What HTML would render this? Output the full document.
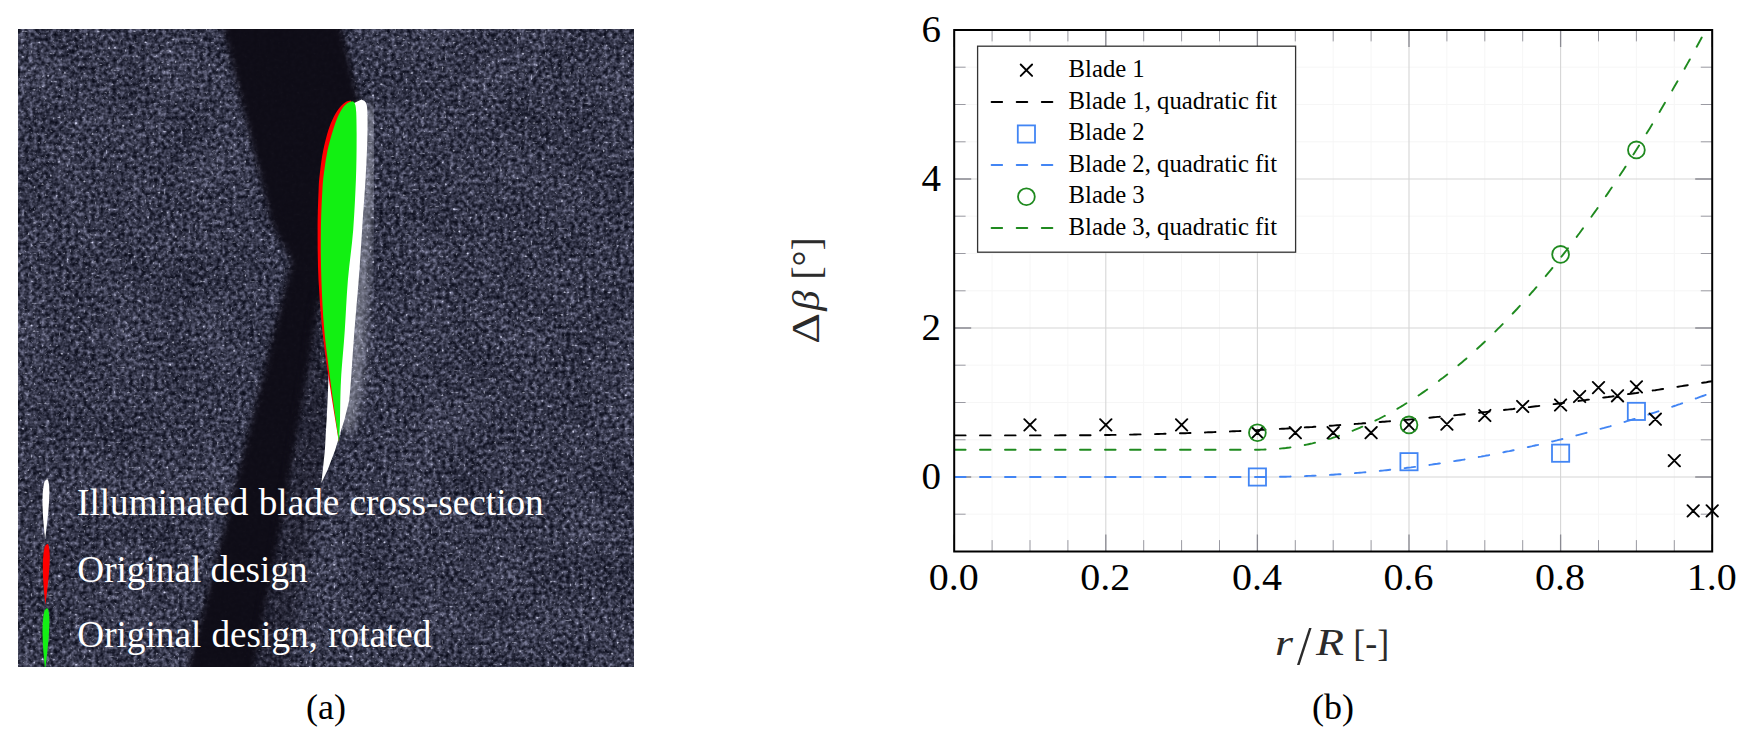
<!DOCTYPE html>
<html><head><meta charset="utf-8"><title>Figure</title>
<style>
html,body{margin:0;padding:0;background:#fff;}
body{width:1754px;height:744px;position:relative;overflow:hidden;font-family:"Liberation Serif",serif;}
svg{position:absolute;left:0;top:0;}
text{font-family:"Liberation Serif",serif;}
.cap{position:absolute;font-size:36px;line-height:40px;color:#000;white-space:nowrap;transform:translateX(-50%);}
</style></head><body>

<svg width="1754" height="744" viewBox="0 0 1754 744">
<defs>
<filter id="noise" x="0" y="0" width="100%" height="100%" color-interpolation-filters="sRGB">
 <feTurbulence type="fractalNoise" baseFrequency="0.24" numOctaves="2" seed="8" result="t"/>
 <feColorMatrix in="t" type="matrix" values="1.2 0 0 0 -0.1  1.2 0 0 0 -0.1  1.2 0 0 0 -0.1  0 0 0 0 1" result="g"/>
 <feTurbulence type="fractalNoise" baseFrequency="0.02" numOctaves="2" seed="3" result="l0"/>
 <feColorMatrix in="l0" type="matrix" values="1 0 0 0 0  1 0 0 0 0  1 0 0 0 0  0 0 0 0 1" result="lf"/>
 <feComposite in="g" in2="lf" operator="arithmetic" k1="0" k2="1" k3="0.2" k4="-0.1" result="m"/>
 <feComponentTransfer in="m" result="base">
   <feFuncR type="gamma" amplitude="0.52" exponent="1.6" offset="0.035"/>
   <feFuncG type="gamma" amplitude="0.52" exponent="1.6" offset="0.043"/>
   <feFuncB type="gamma" amplitude="0.58" exponent="1.6" offset="0.100"/>
 </feComponentTransfer>
 <feTurbulence type="fractalNoise" baseFrequency="0.36" numOctaves="1" seed="5" result="s0"/>
 <feColorMatrix in="s0" type="matrix" values="5 0 0 0 -3.25  5 0 0 0 -3.25  5 0 0 0 -3.25  0 0 0 0 1" result="sp"/>
 <feComposite in="base" in2="sp" operator="arithmetic" k1="0" k2="1" k3="0.55" k4="0"/>
</filter>
<filter id="b3" color-interpolation-filters="sRGB" x="-20%" y="-20%" width="140%" height="140%"><feGaussianBlur stdDeviation="3.2"/></filter>
<filter id="b5" color-interpolation-filters="sRGB" x="-20%" y="-20%" width="140%" height="140%"><feGaussianBlur stdDeviation="6"/></filter>
<filter id="b1" color-interpolation-filters="sRGB" x="-20%" y="-20%" width="140%" height="140%"><feGaussianBlur stdDeviation="0.7"/></filter>
<clipPath id="photo"><rect x="18" y="29" width="616" height="638"/></clipPath>
<clipPath id="plot"><rect x="954.2" y="30.0" width="758.0" height="521.5"/></clipPath>
</defs>
<g clip-path="url(#photo)">
<rect x="18" y="29" width="616" height="638" fill="#3a3c4d"/>
<rect x="18" y="29" width="616" height="638" filter="url(#noise)"/>
<g filter="url(#b3)" opacity="0.97">
<polygon fill="#0e0c16" points="215,10 223,29 272,225 291,262 259,390 188,667 183,690 250,690 255,667 283,520 298,433 312,350 320,300 340,300 360,200 359,100 342,29 336,10"/>
</g>
<g filter="url(#b5)" opacity="0.38">
<polygon fill="#0e0c16" points="320,290 332,380 322,481 287,667 283,690 245,690 255,667 283,520 298,433 312,350"/>
</g>
<g filter="url(#b5)" opacity="0.42"><path fill="none" stroke="#e6e9f5" stroke-width="15" stroke-linecap="round" d="M369,112 L367,180 L361,280 L354,380 L347,425"/></g>
<g filter="url(#b1)">
<path fill="#ffffff" d="M361.5,99.4C362.2,99.9 364.8,100.4 365.8,102.5C366.8,104.6 367.1,105.8 367.4,112.0C367.6,118.2 367.6,128.7 367.3,140.0C367.0,151.3 366.4,165.0 365.5,180.0C364.6,195.0 363.2,213.3 362.1,230.0C361.0,246.7 360.0,263.3 358.7,280.0C357.4,296.7 355.8,313.3 354.5,330.0C353.2,346.7 351.9,368.3 351.0,380.0C350.1,391.7 349.6,396.7 349.3,400.0L344.4,420L340.3,433L335.2,450L327.6,470L321.3,483L322.8,470L324.9,450L325.8,433L326.6,420L327.6,400L328.4,380L330,300L352,104Z"/>
</g>
<path fill="#ff0000" d="M350.5,100.6C349.7,100.8 347.6,100.9 345.8,102.1C344.0,103.2 341.7,105.0 339.7,107.5C337.7,110.0 335.6,113.1 333.7,116.9C331.8,120.7 330.1,124.7 328.3,130.3C326.6,135.9 324.6,143.8 323.2,150.5C321.8,157.2 321.0,164.0 320.2,170.6C319.4,177.2 319.0,180.1 318.6,190.0C318.2,199.9 317.6,215.0 317.6,230.0C317.6,245.0 317.7,263.3 318.5,280.0C319.3,296.7 320.6,313.3 322.3,330.0C324.1,346.7 326.2,361.3 329.0,380.0C331.8,398.7 337.3,431.7 339.0,442.0L338,420L336,380L335,330L335,280L340,180L352,103Z"/>
<path fill="#12f012" d="M352.4,101.2C351.8,101.4 350.1,101.5 348.5,102.6C346.9,103.6 344.8,105.1 343.0,107.5C341.2,109.9 339.4,113.1 337.7,116.9C336.0,120.7 334.7,124.7 333.0,130.3C331.3,135.9 328.9,143.8 327.5,150.5C326.1,157.2 325.2,164.0 324.3,170.6C323.4,177.2 323.0,180.1 322.4,190.0C321.8,199.9 321.1,215.0 320.9,230.0C320.7,245.0 320.8,263.3 321.4,280.0C322.0,296.7 322.8,313.3 324.3,330.0C325.8,346.7 327.9,361.3 330.3,380.0C332.8,398.7 337.6,431.7 339.0,442.0L339.0,442.0C339.2,438.3 339.7,430.3 340.0,420.0C340.3,409.7 340.2,395.0 341.0,380.0C341.8,365.0 343.7,346.7 344.8,330.0C345.9,313.3 346.5,296.7 347.9,280.0C349.3,263.3 351.9,246.7 353.2,230.0C354.5,213.3 355.3,195.0 355.9,180.0C356.5,165.0 356.6,151.3 356.6,140.0C356.7,128.7 356.5,118.1 356.2,112.0C355.9,105.9 355.4,105.3 354.8,103.5C354.2,101.7 352.8,101.6 352.4,101.2Z"/>
<path fill="#ffffff" d="M47.7,479.4 C51.0,485.35999999999996 49.1,509.2 45.1,539 C43.1,521.12 40.9,497.28 44.1,482.976 C45.1,479.996 46.7,478.9 47.7,479.4 Z"/>
<path fill="#ff0000" d="M48.0,544 C51.3,550.1 49.4,574.5 45.4,605 C43.4,586.7 41.199999999999996,562.3 44.4,547.66 C45.4,544.61 47.0,543.5 48.0,544 Z"/>
<path fill="#14f014" d="M47.7,608.4 C51.0,614.56 49.1,639.2 45.1,670 C43.1,651.52 40.9,626.88 44.1,612.096 C45.1,609.016 46.7,607.9 47.7,608.4 Z"/>
<g fill="#ffffff" font-size="37.2px">
<text x="77.0" y="515.3" word-spacing="1px">Illuminated blade cross-section</text>
<text x="77.3" y="582.4">Original design</text>
<text x="77.3" y="647.2" word-spacing="1px">Original design, rotated</text>
</g>
</g>
<path d="M992.1,30.0V551.5M1030.0,30.0V551.5M1067.9,30.0V551.5M1143.7,30.0V551.5M1181.6,30.0V551.5M1219.5,30.0V551.5M1295.3,30.0V551.5M1333.2,30.0V551.5M1371.1,30.0V551.5M1446.9,30.0V551.5M1484.8,30.0V551.5M1522.7,30.0V551.5M1598.5,30.0V551.5M1636.4,30.0V551.5M1674.3,30.0V551.5M954.2,551.5H1712.2M954.2,514.2H1712.2M954.2,439.8H1712.2M954.2,402.5H1712.2M954.2,365.2H1712.2M954.2,290.8H1712.2M954.2,253.5H1712.2M954.2,216.2H1712.2M954.2,141.8H1712.2M954.2,104.5H1712.2M954.2,67.2H1712.2" stroke="#f6f6f6" stroke-width="1" fill="none"/>
<path d="M1105.8,30.0V551.5M1257.4,30.0V551.5M1409.0,30.0V551.5M1560.6,30.0V551.5M954.2,477.0H1712.2M954.2,328.0H1712.2M954.2,179.0H1712.2" stroke="#d6d6d6" stroke-width="1.1" fill="none"/>
<path d="M992.1,30.0v11.4M992.1,551.5v-11.4M1030.0,30.0v11.4M1030.0,551.5v-11.4M1067.9,30.0v11.4M1067.9,551.5v-11.4M1143.7,30.0v11.4M1143.7,551.5v-11.4M1181.6,30.0v11.4M1181.6,551.5v-11.4M1219.5,30.0v11.4M1219.5,551.5v-11.4M1295.3,30.0v11.4M1295.3,551.5v-11.4M1333.2,30.0v11.4M1333.2,551.5v-11.4M1371.1,30.0v11.4M1371.1,551.5v-11.4M1446.9,30.0v11.4M1446.9,551.5v-11.4M1484.8,30.0v11.4M1484.8,551.5v-11.4M1522.7,30.0v11.4M1522.7,551.5v-11.4M1598.5,30.0v11.4M1598.5,551.5v-11.4M1636.4,30.0v11.4M1636.4,551.5v-11.4M1674.3,30.0v11.4M1674.3,551.5v-11.4M954.2,551.5h11.4M1712.2,551.5h-11.4M954.2,514.2h11.4M1712.2,514.2h-11.4M954.2,439.8h11.4M1712.2,439.8h-11.4M954.2,402.5h11.4M1712.2,402.5h-11.4M954.2,365.2h11.4M1712.2,365.2h-11.4M954.2,290.8h11.4M1712.2,290.8h-11.4M954.2,253.5h11.4M1712.2,253.5h-11.4M954.2,216.2h11.4M1712.2,216.2h-11.4M954.2,141.8h11.4M1712.2,141.8h-11.4M954.2,104.5h11.4M1712.2,104.5h-11.4M954.2,67.2h11.4M1712.2,67.2h-11.4" stroke="#9a9aa2" stroke-width="1" fill="none"/>
<path d="M954.2,30.0v17M954.2,551.5v-17M1105.8,30.0v17M1105.8,551.5v-17M1257.4,30.0v17M1257.4,551.5v-17M1409.0,30.0v17M1409.0,551.5v-17M1560.6,30.0v17M1560.6,551.5v-17M1712.2,30.0v17M1712.2,551.5v-17M954.2,477.0h17M1712.2,477.0h-17M954.2,328.0h17M1712.2,328.0h-17M954.2,179.0h17M1712.2,179.0h-17M954.2,30.0h17M1712.2,30.0h-17" stroke="#8a8a92" stroke-width="1.3" fill="none"/>
<g clip-path="url(#plot)">
<polyline points="954.2,435.4 956.1,435.4 958.0,435.4 959.9,435.4 961.8,435.4 963.7,435.4 965.6,435.4 967.5,435.4 969.4,435.4 971.3,435.4 973.2,435.4 975.0,435.4 976.9,435.4 978.8,435.4 980.7,435.4 982.6,435.4 984.5,435.4 986.4,435.4 988.3,435.4 990.2,435.4 992.1,435.4 994.0,435.4 995.9,435.4 997.8,435.4 999.7,435.4 1001.6,435.4 1003.5,435.4 1005.4,435.4 1007.3,435.4 1009.2,435.4 1011.1,435.4 1012.9,435.4 1014.8,435.4 1016.7,435.4 1018.6,435.4 1020.5,435.4 1022.4,435.4 1024.3,435.4 1026.2,435.4 1028.1,435.4 1030.0,435.4 1031.9,435.4 1033.8,435.4 1035.7,435.4 1037.6,435.4 1039.5,435.4 1041.4,435.4 1043.3,435.4 1045.2,435.4 1047.1,435.4 1049.0,435.4 1050.8,435.4 1052.7,435.4 1054.6,435.4 1056.5,435.4 1058.4,435.4 1060.3,435.3 1062.2,435.3 1064.1,435.3 1066.0,435.3 1067.9,435.3 1069.8,435.3 1071.7,435.3 1073.6,435.3 1075.5,435.3 1077.4,435.3 1079.3,435.3 1081.2,435.3 1083.1,435.2 1085.0,435.2 1086.9,435.2 1088.7,435.2 1090.6,435.2 1092.5,435.2 1094.4,435.1 1096.3,435.1 1098.2,435.1 1100.1,435.1 1102.0,435.1 1103.9,435.0 1105.8,435.0 1107.7,435.0 1109.6,435.0 1111.5,434.9 1113.4,434.9 1115.3,434.9 1117.2,434.8 1119.1,434.8 1121.0,434.8 1122.9,434.7 1124.8,434.7 1126.6,434.7 1128.5,434.6 1130.4,434.6 1132.3,434.6 1134.2,434.5 1136.1,434.5 1138.0,434.4 1139.9,434.4 1141.8,434.4 1143.7,434.3 1145.6,434.3 1147.5,434.2 1149.4,434.2 1151.3,434.1 1153.2,434.1 1155.1,434.1 1157.0,434.0 1158.9,434.0 1160.8,433.9 1162.7,433.9 1164.5,433.8 1166.4,433.7 1168.3,433.7 1170.2,433.6 1172.1,433.6 1174.0,433.5 1175.9,433.5 1177.8,433.4 1179.7,433.3 1181.6,433.3 1183.5,433.2 1185.4,433.2 1187.3,433.1 1189.2,433.0 1191.1,433.0 1193.0,432.9 1194.9,432.8 1196.8,432.8 1198.7,432.7 1200.5,432.6 1202.4,432.6 1204.3,432.5 1206.2,432.4 1208.1,432.3 1210.0,432.3 1211.9,432.2 1213.8,432.1 1215.7,432.0 1217.6,432.0 1219.5,431.9 1221.4,431.8 1223.3,431.7 1225.2,431.7 1227.1,431.6 1229.0,431.5 1230.9,431.4 1232.8,431.3 1234.7,431.2 1236.6,431.1 1238.5,431.1 1240.3,431.0 1242.2,430.9 1244.1,430.8 1246.0,430.7 1247.9,430.6 1249.8,430.5 1251.7,430.4 1253.6,430.3 1255.5,430.2 1257.4,430.1 1259.3,430.0 1261.2,429.9 1263.1,429.8 1265.0,429.7 1266.9,429.6 1268.8,429.5 1270.7,429.4 1272.6,429.3 1274.5,429.2 1276.3,429.1 1278.2,429.0 1280.1,428.9 1282.0,428.8 1283.9,428.7 1285.8,428.6 1287.7,428.5 1289.6,428.4 1291.5,428.3 1293.4,428.1 1295.3,428.0 1297.2,427.9 1299.1,427.8 1301.0,427.7 1302.9,427.6 1304.8,427.4 1306.7,427.3 1308.6,427.2 1310.5,427.1 1312.4,427.0 1314.2,426.8 1316.1,426.7 1318.0,426.6 1319.9,426.5 1321.8,426.3 1323.7,426.2 1325.6,426.1 1327.5,426.0 1329.4,425.8 1331.3,425.7 1333.2,425.6 1335.1,425.4 1337.0,425.3 1338.9,425.2 1340.8,425.0 1342.7,424.9 1344.6,424.8 1346.5,424.6 1348.4,424.5 1350.3,424.3 1352.2,424.2 1354.0,424.1 1355.9,423.9 1357.8,423.8 1359.7,423.6 1361.6,423.5 1363.5,423.3 1365.4,423.2 1367.3,423.0 1369.2,422.9 1371.1,422.7 1373.0,422.6 1374.9,422.4 1376.8,422.3 1378.7,422.1 1380.6,422.0 1382.5,421.8 1384.4,421.7 1386.3,421.5 1388.2,421.4 1390.0,421.2 1391.9,421.0 1393.8,420.9 1395.7,420.7 1397.6,420.5 1399.5,420.4 1401.4,420.2 1403.3,420.1 1405.2,419.9 1407.1,419.7 1409.0,419.6 1410.9,419.4 1412.8,419.2 1414.7,419.0 1416.6,418.9 1418.5,418.7 1420.4,418.5 1422.3,418.4 1424.2,418.2 1426.1,418.0 1428.0,417.8 1429.8,417.7 1431.7,417.5 1433.6,417.3 1435.5,417.1 1437.4,416.9 1439.3,416.8 1441.2,416.6 1443.1,416.4 1445.0,416.2 1446.9,416.0 1448.8,415.8 1450.7,415.6 1452.6,415.5 1454.5,415.3 1456.4,415.1 1458.3,414.9 1460.2,414.7 1462.1,414.5 1464.0,414.3 1465.9,414.1 1467.7,413.9 1469.6,413.7 1471.5,413.5 1473.4,413.3 1475.3,413.1 1477.2,412.9 1479.1,412.7 1481.0,412.5 1482.9,412.3 1484.8,412.1 1486.7,411.9 1488.6,411.7 1490.5,411.5 1492.4,411.3 1494.3,411.1 1496.2,410.9 1498.1,410.7 1500.0,410.5 1501.9,410.2 1503.8,410.0 1505.6,409.8 1507.5,409.6 1509.4,409.4 1511.3,409.2 1513.2,409.0 1515.1,408.7 1517.0,408.5 1518.9,408.3 1520.8,408.1 1522.7,407.9 1524.6,407.6 1526.5,407.4 1528.4,407.2 1530.3,407.0 1532.2,406.7 1534.1,406.5 1536.0,406.3 1537.9,406.1 1539.8,405.8 1541.7,405.6 1543.5,405.4 1545.4,405.1 1547.3,404.9 1549.2,404.7 1551.1,404.4 1553.0,404.2 1554.9,404.0 1556.8,403.7 1558.7,403.5 1560.6,403.2 1562.5,403.0 1564.4,402.8 1566.3,402.5 1568.2,402.3 1570.1,402.0 1572.0,401.8 1573.9,401.6 1575.8,401.3 1577.7,401.1 1579.6,400.8 1581.4,400.6 1583.3,400.3 1585.2,400.1 1587.1,399.8 1589.0,399.6 1590.9,399.3 1592.8,399.0 1594.7,398.8 1596.6,398.5 1598.5,398.3 1600.4,398.0 1602.3,397.8 1604.2,397.5 1606.1,397.2 1608.0,397.0 1609.9,396.7 1611.8,396.5 1613.7,396.2 1615.6,395.9 1617.5,395.7 1619.3,395.4 1621.2,395.1 1623.1,394.9 1625.0,394.6 1626.9,394.3 1628.8,394.0 1630.7,393.8 1632.6,393.5 1634.5,393.2 1636.4,393.0 1638.3,392.7 1640.2,392.4 1642.1,392.1 1644.0,391.8 1645.9,391.6 1647.8,391.3 1649.7,391.0 1651.6,390.7 1653.5,390.4 1655.3,390.2 1657.2,389.9 1659.1,389.6 1661.0,389.3 1662.9,389.0 1664.8,388.7 1666.7,388.4 1668.6,388.1 1670.5,387.8 1672.4,387.6 1674.3,387.3 1676.2,387.0 1678.1,386.7 1680.0,386.4 1681.9,386.1 1683.8,385.8 1685.7,385.5 1687.6,385.2 1689.5,384.9 1691.4,384.6 1693.2,384.3 1695.1,384.0 1697.0,383.7 1698.9,383.4 1700.8,383.1 1702.7,382.8 1704.6,382.5 1706.5,382.2 1708.4,381.8 1710.3,381.5 1712.2,381.2" fill="none" stroke="#000000" stroke-width="1.9" stroke-linecap="round" stroke-dasharray="10.6 14.4" stroke-dashoffset="-0.8"/>
<polyline points="954.2,477.0 956.1,477.0 958.0,477.0 959.9,477.0 961.8,477.0 963.7,477.0 965.6,477.0 967.5,477.0 969.4,477.0 971.3,477.0 973.2,477.0 975.0,477.0 976.9,477.0 978.8,477.0 980.7,477.0 982.6,477.0 984.5,477.0 986.4,477.0 988.3,477.0 990.2,477.0 992.1,477.0 994.0,477.0 995.9,477.0 997.8,477.0 999.7,477.0 1001.6,477.0 1003.5,477.0 1005.4,477.0 1007.3,477.0 1009.2,477.0 1011.1,477.0 1012.9,477.0 1014.8,477.0 1016.7,477.0 1018.6,477.0 1020.5,477.0 1022.4,477.0 1024.3,477.0 1026.2,477.0 1028.1,477.0 1030.0,477.0 1031.9,477.0 1033.8,477.0 1035.7,477.0 1037.6,477.0 1039.5,477.0 1041.4,477.0 1043.3,477.0 1045.2,477.0 1047.1,477.0 1049.0,477.0 1050.8,477.0 1052.7,477.0 1054.6,477.0 1056.5,477.0 1058.4,477.0 1060.3,477.0 1062.2,477.0 1064.1,477.0 1066.0,477.0 1067.9,477.0 1069.8,477.0 1071.7,477.0 1073.6,477.0 1075.5,477.0 1077.4,477.0 1079.3,477.0 1081.2,477.0 1083.1,477.0 1085.0,477.0 1086.9,477.0 1088.7,477.0 1090.6,477.0 1092.5,477.0 1094.4,477.0 1096.3,477.0 1098.2,477.0 1100.1,477.0 1102.0,477.0 1103.9,477.0 1105.8,477.0 1107.7,477.0 1109.6,477.0 1111.5,477.0 1113.4,477.0 1115.3,477.0 1117.2,477.0 1119.1,477.0 1121.0,477.0 1122.9,477.0 1124.8,477.0 1126.6,477.0 1128.5,477.0 1130.4,477.0 1132.3,477.0 1134.2,477.0 1136.1,477.0 1138.0,477.0 1139.9,477.0 1141.8,477.0 1143.7,477.0 1145.6,477.0 1147.5,477.0 1149.4,477.0 1151.3,477.0 1153.2,477.0 1155.1,477.0 1157.0,477.0 1158.9,477.0 1160.8,477.0 1162.7,477.0 1164.5,477.0 1166.4,477.0 1168.3,477.0 1170.2,477.0 1172.1,477.0 1174.0,477.0 1175.9,477.0 1177.8,477.0 1179.7,477.0 1181.6,477.0 1183.5,477.0 1185.4,477.0 1187.3,477.0 1189.2,477.0 1191.1,477.0 1193.0,477.0 1194.9,477.0 1196.8,477.0 1198.7,477.0 1200.5,477.0 1202.4,477.0 1204.3,477.0 1206.2,477.0 1208.1,477.0 1210.0,477.0 1211.9,477.0 1213.8,477.0 1215.7,477.0 1217.6,477.0 1219.5,477.0 1221.4,477.0 1223.3,477.0 1225.2,477.0 1227.1,477.0 1229.0,477.0 1230.9,477.0 1232.8,477.0 1234.7,477.0 1236.6,477.0 1238.5,477.0 1240.3,477.0 1242.2,477.0 1244.1,477.0 1246.0,477.0 1247.9,477.0 1249.8,477.0 1251.7,477.0 1253.6,477.0 1255.5,477.0 1257.4,477.0 1259.3,477.0 1261.2,477.0 1263.1,477.0 1265.0,477.0 1266.9,477.0 1268.8,476.9 1270.7,476.9 1272.6,476.9 1274.5,476.9 1276.3,476.9 1278.2,476.8 1280.1,476.8 1282.0,476.8 1283.9,476.7 1285.8,476.7 1287.7,476.6 1289.6,476.6 1291.5,476.5 1293.4,476.5 1295.3,476.4 1297.2,476.4 1299.1,476.3 1301.0,476.2 1302.9,476.2 1304.8,476.1 1306.7,476.0 1308.6,475.9 1310.5,475.9 1312.4,475.8 1314.2,475.7 1316.1,475.6 1318.0,475.5 1319.9,475.4 1321.8,475.3 1323.7,475.2 1325.6,475.1 1327.5,475.0 1329.4,474.9 1331.3,474.8 1333.2,474.7 1335.1,474.5 1337.0,474.4 1338.9,474.3 1340.8,474.2 1342.7,474.0 1344.6,473.9 1346.5,473.8 1348.4,473.6 1350.3,473.5 1352.2,473.3 1354.0,473.2 1355.9,473.0 1357.8,472.9 1359.7,472.7 1361.6,472.6 1363.5,472.4 1365.4,472.2 1367.3,472.1 1369.2,471.9 1371.1,471.7 1373.0,471.5 1374.9,471.4 1376.8,471.2 1378.7,471.0 1380.6,470.8 1382.5,470.6 1384.4,470.4 1386.3,470.2 1388.2,470.0 1390.0,469.8 1391.9,469.6 1393.8,469.4 1395.7,469.2 1397.6,469.0 1399.5,468.7 1401.4,468.5 1403.3,468.3 1405.2,468.1 1407.1,467.8 1409.0,467.6 1410.9,467.4 1412.8,467.1 1414.7,466.9 1416.6,466.7 1418.5,466.4 1420.4,466.2 1422.3,465.9 1424.2,465.6 1426.1,465.4 1428.0,465.1 1429.8,464.9 1431.7,464.6 1433.6,464.3 1435.5,464.0 1437.4,463.8 1439.3,463.5 1441.2,463.2 1443.1,462.9 1445.0,462.6 1446.9,462.3 1448.8,462.0 1450.7,461.7 1452.6,461.4 1454.5,461.1 1456.4,460.8 1458.3,460.5 1460.2,460.2 1462.1,459.9 1464.0,459.6 1465.9,459.3 1467.7,458.9 1469.6,458.6 1471.5,458.3 1473.4,457.9 1475.3,457.6 1477.2,457.3 1479.1,456.9 1481.0,456.6 1482.9,456.2 1484.8,455.9 1486.7,455.5 1488.6,455.2 1490.5,454.8 1492.4,454.4 1494.3,454.1 1496.2,453.7 1498.1,453.3 1500.0,453.0 1501.9,452.6 1503.8,452.2 1505.6,451.8 1507.5,451.4 1509.4,451.1 1511.3,450.7 1513.2,450.3 1515.1,449.9 1517.0,449.5 1518.9,449.1 1520.8,448.7 1522.7,448.3 1524.6,447.8 1526.5,447.4 1528.4,447.0 1530.3,446.6 1532.2,446.2 1534.1,445.7 1536.0,445.3 1537.9,444.9 1539.8,444.4 1541.7,444.0 1543.5,443.6 1545.4,443.1 1547.3,442.7 1549.2,442.2 1551.1,441.8 1553.0,441.3 1554.9,440.8 1556.8,440.4 1558.7,439.9 1560.6,439.5 1562.5,439.0 1564.4,438.5 1566.3,438.0 1568.2,437.6 1570.1,437.1 1572.0,436.6 1573.9,436.1 1575.8,435.6 1577.7,435.1 1579.6,434.6 1581.4,434.1 1583.3,433.6 1585.2,433.1 1587.1,432.6 1589.0,432.1 1590.9,431.6 1592.8,431.0 1594.7,430.5 1596.6,430.0 1598.5,429.5 1600.4,428.9 1602.3,428.4 1604.2,427.9 1606.1,427.3 1608.0,426.8 1609.9,426.3 1611.8,425.7 1613.7,425.2 1615.6,424.6 1617.5,424.1 1619.3,423.5 1621.2,422.9 1623.1,422.4 1625.0,421.8 1626.9,421.2 1628.8,420.7 1630.7,420.1 1632.6,419.5 1634.5,418.9 1636.4,418.3 1638.3,417.7 1640.2,417.2 1642.1,416.6 1644.0,416.0 1645.9,415.4 1647.8,414.8 1649.7,414.2 1651.6,413.5 1653.5,412.9 1655.3,412.3 1657.2,411.7 1659.1,411.1 1661.0,410.5 1662.9,409.8 1664.8,409.2 1666.7,408.6 1668.6,407.9 1670.5,407.3 1672.4,406.7 1674.3,406.0 1676.2,405.4 1678.1,404.7 1680.0,404.1 1681.9,403.4 1683.8,402.7 1685.7,402.1 1687.6,401.4 1689.5,400.8 1691.4,400.1 1693.2,399.4 1695.1,398.7 1697.0,398.1 1698.9,397.4 1700.8,396.7 1702.7,396.0 1704.6,395.3 1706.5,394.6 1708.4,393.9 1710.3,393.2 1712.2,392.5" fill="none" stroke="#4285f4" stroke-width="1.9" stroke-linecap="round" stroke-dasharray="10.6 14.4" stroke-dashoffset="-0.8"/>
<polyline points="954.2,449.7 956.1,449.7 958.0,449.7 959.9,449.7 961.8,449.7 963.7,449.7 965.6,449.7 967.5,449.7 969.4,449.7 971.3,449.7 973.2,449.7 975.0,449.7 976.9,449.7 978.8,449.7 980.7,449.7 982.6,449.7 984.5,449.7 986.4,449.7 988.3,449.7 990.2,449.7 992.1,449.7 994.0,449.7 995.9,449.7 997.8,449.7 999.7,449.7 1001.6,449.7 1003.5,449.7 1005.4,449.7 1007.3,449.7 1009.2,449.7 1011.1,449.7 1012.9,449.7 1014.8,449.7 1016.7,449.7 1018.6,449.7 1020.5,449.7 1022.4,449.7 1024.3,449.7 1026.2,449.7 1028.1,449.7 1030.0,449.7 1031.9,449.7 1033.8,449.7 1035.7,449.7 1037.6,449.7 1039.5,449.7 1041.4,449.7 1043.3,449.7 1045.2,449.7 1047.1,449.7 1049.0,449.7 1050.8,449.7 1052.7,449.7 1054.6,449.7 1056.5,449.7 1058.4,449.7 1060.3,449.7 1062.2,449.7 1064.1,449.7 1066.0,449.7 1067.9,449.7 1069.8,449.7 1071.7,449.7 1073.6,449.7 1075.5,449.7 1077.4,449.7 1079.3,449.7 1081.2,449.7 1083.1,449.7 1085.0,449.7 1086.9,449.7 1088.7,449.7 1090.6,449.7 1092.5,449.7 1094.4,449.7 1096.3,449.7 1098.2,449.7 1100.1,449.7 1102.0,449.7 1103.9,449.7 1105.8,449.7 1107.7,449.7 1109.6,449.7 1111.5,449.7 1113.4,449.7 1115.3,449.7 1117.2,449.7 1119.1,449.7 1121.0,449.7 1122.9,449.7 1124.8,449.7 1126.6,449.7 1128.5,449.7 1130.4,449.7 1132.3,449.7 1134.2,449.7 1136.1,449.7 1138.0,449.7 1139.9,449.7 1141.8,449.7 1143.7,449.7 1145.6,449.7 1147.5,449.7 1149.4,449.7 1151.3,449.7 1153.2,449.7 1155.1,449.7 1157.0,449.7 1158.9,449.7 1160.8,449.7 1162.7,449.7 1164.5,449.7 1166.4,449.7 1168.3,449.7 1170.2,449.7 1172.1,449.7 1174.0,449.7 1175.9,449.7 1177.8,449.7 1179.7,449.7 1181.6,449.7 1183.5,449.7 1185.4,449.7 1187.3,449.7 1189.2,449.7 1191.1,449.7 1193.0,449.7 1194.9,449.7 1196.8,449.7 1198.7,449.7 1200.5,449.7 1202.4,449.7 1204.3,449.7 1206.2,449.7 1208.1,449.7 1210.0,449.7 1211.9,449.7 1213.8,449.7 1215.7,449.7 1217.6,449.7 1219.5,449.7 1221.4,449.7 1223.3,449.7 1225.2,449.7 1227.1,449.7 1229.0,449.7 1230.9,449.7 1232.8,449.7 1234.7,449.7 1236.6,449.7 1238.5,449.7 1240.3,449.7 1242.2,449.7 1244.1,449.7 1246.0,449.7 1247.9,449.7 1249.8,449.7 1251.7,449.7 1253.6,449.7 1255.5,449.7 1257.4,449.7 1259.3,449.7 1261.2,449.6 1263.1,449.6 1265.0,449.5 1266.9,449.5 1268.8,449.4 1270.7,449.3 1272.6,449.2 1274.5,449.1 1276.3,448.9 1278.2,448.8 1280.1,448.6 1282.0,448.4 1283.9,448.2 1285.8,448.0 1287.7,447.7 1289.6,447.5 1291.5,447.2 1293.4,447.0 1295.3,446.7 1297.2,446.4 1299.1,446.0 1301.0,445.7 1302.9,445.3 1304.8,445.0 1306.7,444.6 1308.6,444.2 1310.5,443.8 1312.4,443.4 1314.2,442.9 1316.1,442.5 1318.0,442.0 1319.9,441.5 1321.8,441.0 1323.7,440.5 1325.6,439.9 1327.5,439.4 1329.4,438.8 1331.3,438.3 1333.2,437.7 1335.1,437.1 1337.0,436.4 1338.9,435.8 1340.8,435.1 1342.7,434.5 1344.6,433.8 1346.5,433.1 1348.4,432.4 1350.3,431.7 1352.2,430.9 1354.0,430.2 1355.9,429.4 1357.8,428.6 1359.7,427.8 1361.6,427.0 1363.5,426.1 1365.4,425.3 1367.3,424.4 1369.2,423.6 1371.1,422.7 1373.0,421.8 1374.9,420.8 1376.8,419.9 1378.7,419.0 1380.6,418.0 1382.5,417.0 1384.4,416.0 1386.3,415.0 1388.2,414.0 1390.0,412.9 1391.9,411.9 1393.8,410.8 1395.7,409.7 1397.6,408.6 1399.5,407.5 1401.4,406.4 1403.3,405.2 1405.2,404.0 1407.1,402.9 1409.0,401.7 1410.9,400.5 1412.8,399.3 1414.7,398.0 1416.6,396.8 1418.5,395.5 1420.4,394.2 1422.3,392.9 1424.2,391.6 1426.1,390.3 1428.0,388.9 1429.8,387.6 1431.7,386.2 1433.6,384.8 1435.5,383.4 1437.4,382.0 1439.3,380.6 1441.2,379.1 1443.1,377.7 1445.0,376.2 1446.9,374.7 1448.8,373.2 1450.7,371.7 1452.6,370.1 1454.5,368.6 1456.4,367.0 1458.3,365.4 1460.2,363.8 1462.1,362.2 1464.0,360.6 1465.9,359.0 1467.7,357.3 1469.6,355.6 1471.5,353.9 1473.4,352.2 1475.3,350.5 1477.2,348.8 1479.1,347.0 1481.0,345.3 1482.9,343.5 1484.8,341.7 1486.7,339.9 1488.6,338.1 1490.5,336.2 1492.4,334.4 1494.3,332.5 1496.2,330.6 1498.1,328.7 1500.0,326.8 1501.9,324.9 1503.8,323.0 1505.6,321.0 1507.5,319.0 1509.4,317.1 1511.3,315.1 1513.2,313.0 1515.1,311.0 1517.0,309.0 1518.9,306.9 1520.8,304.8 1522.7,302.7 1524.6,300.6 1526.5,298.5 1528.4,296.4 1530.3,294.2 1532.2,292.0 1534.1,289.9 1536.0,287.7 1537.9,285.5 1539.8,283.2 1541.7,281.0 1543.5,278.7 1545.4,276.5 1547.3,274.2 1549.2,271.9 1551.1,269.6 1553.0,267.2 1554.9,264.9 1556.8,262.5 1558.7,260.1 1560.6,257.7 1562.5,255.3 1564.4,252.9 1566.3,250.5 1568.2,248.0 1570.1,245.6 1572.0,243.1 1573.9,240.6 1575.8,238.1 1577.7,235.5 1579.6,233.0 1581.4,230.5 1583.3,227.9 1585.2,225.3 1587.1,222.7 1589.0,220.1 1590.9,217.4 1592.8,214.8 1594.7,212.1 1596.6,209.5 1598.5,206.8 1600.4,204.1 1602.3,201.3 1604.2,198.6 1606.1,195.9 1608.0,193.1 1609.9,190.3 1611.8,187.5 1613.7,184.7 1615.6,181.9 1617.5,179.0 1619.3,176.2 1621.2,173.3 1623.1,170.4 1625.0,167.5 1626.9,164.6 1628.8,161.7 1630.7,158.7 1632.6,155.8 1634.5,152.8 1636.4,149.8 1638.3,146.8 1640.2,143.8 1642.1,140.7 1644.0,137.7 1645.9,134.6 1647.8,131.5 1649.7,128.4 1651.6,125.3 1653.5,122.2 1655.3,119.1 1657.2,115.9 1659.1,112.7 1661.0,109.5 1662.9,106.3 1664.8,103.1 1666.7,99.9 1668.6,96.7 1670.5,93.4 1672.4,90.1 1674.3,86.8 1676.2,83.5 1678.1,80.2 1680.0,76.9 1681.9,73.5 1683.8,70.1 1685.7,66.8 1687.6,63.4 1689.5,60.0 1691.4,56.5 1693.2,53.1 1695.1,49.6 1697.0,46.2 1698.9,42.7 1700.8,39.2 1702.7,35.7 1704.6,32.1 1706.5,28.6 1708.4,25.0 1710.3,21.4 1712.2,17.9" fill="none" stroke="#1f8a1f" stroke-width="1.9" stroke-linecap="round" stroke-dasharray="10.6 14.4" stroke-dashoffset="-0.8"/>
</g>
<path d="M1024.3,419.2l11.4,11.4M1024.3,430.6l11.4,-11.4M1100.1,419.2l11.4,11.4M1100.1,430.6l11.4,-11.4M1175.9,419.2l11.4,11.4M1175.9,430.6l11.4,-11.4M1251.7,427.0l11.4,11.4M1251.7,438.4l11.4,-11.4M1289.6,427.0l11.4,11.4M1289.6,438.4l11.4,-11.4M1327.5,427.0l11.4,11.4M1327.5,438.4l11.4,-11.4M1365.4,427.0l11.4,11.4M1365.4,438.4l11.4,-11.4M1403.3,419.2l11.4,11.4M1403.3,430.6l11.4,-11.4M1441.2,418.4l11.4,11.4M1441.2,429.8l11.4,-11.4M1479.1,409.8l11.4,11.4M1479.1,421.2l11.4,-11.4M1517.0,400.8l11.4,11.4M1517.0,412.2l11.4,-11.4M1554.9,399.3l11.4,11.4M1554.9,410.7l11.4,-11.4M1573.9,390.8l11.4,11.4M1573.9,402.2l11.4,-11.4M1592.8,381.9l11.4,11.4M1592.8,393.3l11.4,-11.4M1611.8,390.1l11.4,11.4M1611.8,401.5l11.4,-11.4M1630.7,381.2l11.4,11.4M1630.7,392.6l11.4,-11.4M1649.6,413.5l11.4,11.4M1649.6,424.9l11.4,-11.4M1668.6,454.9l11.4,11.4M1668.6,466.3l11.4,-11.4M1687.5,505.2l11.4,11.4M1687.5,516.6l11.4,-11.4M1706.5,505.2l11.4,11.4M1706.5,516.6l11.4,-11.4" stroke="#000000" stroke-width="1.9" stroke-linecap="round" fill="none"/>
<rect x="1248.8" y="468.4" width="17.2" height="17.2" fill="none" stroke="#4285f4" stroke-width="1.8"/>
<rect x="1400.4" y="453.1" width="17.2" height="17.2" fill="none" stroke="#4285f4" stroke-width="1.8"/>
<rect x="1552.0" y="444.6" width="17.2" height="17.2" fill="none" stroke="#4285f4" stroke-width="1.8"/>
<rect x="1627.8" y="402.8" width="17.2" height="17.2" fill="none" stroke="#4285f4" stroke-width="1.8"/>
<circle cx="1257.4" cy="432.7" r="8.4" fill="none" stroke="#1f8a1f" stroke-width="1.8"/>
<circle cx="1409.0" cy="424.9" r="8.4" fill="none" stroke="#1f8a1f" stroke-width="1.8"/>
<circle cx="1560.6" cy="254.4" r="8.4" fill="none" stroke="#1f8a1f" stroke-width="1.8"/>
<circle cx="1636.4" cy="149.9" r="8.4" fill="none" stroke="#1f8a1f" stroke-width="1.8"/>
<rect x="954.2" y="30.0" width="758.0" height="521.5" fill="none" stroke="#000" stroke-width="2"/>
<rect x="977.6" y="46.2" width="318" height="206" fill="#fff" stroke="#333" stroke-width="1.3"/>
<g font-size="24.7px" fill="#000">
<text x="1068.6" y="77">Blade 1</text>
<text x="1068.6" y="108.6">Blade 1, quadratic fit</text>
<text x="1068.6" y="140">Blade 2</text>
<text x="1068.6" y="171.6">Blade 2, quadratic fit</text>
<text x="1068.6" y="203.2">Blade 3</text>
<text x="1068.6" y="234.6">Blade 3, quadratic fit</text>
</g>
<path d="M1020.7,64.5l11.4,11.4M1020.7,75.9l11.4,-11.4" stroke="#000000" stroke-width="1.9" stroke-linecap="round" fill="none"/>
<rect x="1017.8000000000001" y="125.4" width="17.2" height="17.2" fill="none" stroke="#4285f4" stroke-width="1.8"/>
<circle cx="1026.4" cy="196.7" r="8.4" fill="none" stroke="#1f8a1f" stroke-width="1.8"/>
<path d="M991.6,102.0H1053.4" stroke="#000000" stroke-width="1.9" stroke-linecap="round" stroke-dasharray="10.6 14.5" fill="none"/>
<path d="M991.6,165.0H1053.4" stroke="#4285f4" stroke-width="1.9" stroke-linecap="round" stroke-dasharray="10.6 14.5" fill="none"/>
<path d="M991.6,228.0H1053.4" stroke="#1f8a1f" stroke-width="1.9" stroke-linecap="round" stroke-dasharray="10.6 14.5" fill="none"/>
<g font-size="37.4px" fill="#000" text-anchor="middle">
<text x="953.7" y="589.5" textLength="50" lengthAdjust="spacingAndGlyphs">0.0</text>
<text x="1105.3" y="589.5" textLength="50" lengthAdjust="spacingAndGlyphs">0.2</text>
<text x="1256.9" y="589.5" textLength="50" lengthAdjust="spacingAndGlyphs">0.4</text>
<text x="1408.5" y="589.5" textLength="50" lengthAdjust="spacingAndGlyphs">0.6</text>
<text x="1560.1" y="589.5" textLength="50" lengthAdjust="spacingAndGlyphs">0.8</text>
<text x="1711.7" y="589.5" textLength="50" lengthAdjust="spacingAndGlyphs">1.0</text>
</g>
<g font-size="37.4px" fill="#000" text-anchor="end">
<text x="941" y="488.6" textLength="19.5" lengthAdjust="spacingAndGlyphs">0</text>
<text x="941" y="339.6" textLength="19.5" lengthAdjust="spacingAndGlyphs">2</text>
<text x="941" y="190.6" textLength="19.5" lengthAdjust="spacingAndGlyphs">4</text>
<text x="941" y="41.6" textLength="19.5" lengthAdjust="spacingAndGlyphs">6</text>
</g>
<text transform="matrix(0.4629 0 0 0.3596 1275.05 655.30)" font-size="100px" font-style="italic" fill="#2b2b2b">r</text>
<text transform="matrix(0.5240 0 0 0.5597 1297.10 664.04)" font-size="100px" font-style="normal" fill="#2b2b2b">/</text>
<text transform="matrix(0.4583 0 0 0.3868 1315.91 654.90)" font-size="100px" font-style="italic" fill="#2b2b2b">R</text>
<text transform="matrix(0.3600 0 0 0.3714 1353.36 656.05)" font-size="100px" font-style="normal" fill="#2b2b2b">[-]</text>
<text transform="rotate(-90) matrix(0.4807 0 0 0.4106 -343.86 819.20)" font-size="100px" font-style="normal" fill="#2b2b2b">Δ</text>
<text transform="rotate(-90) matrix(0.4090 0 0 0.3786 -310.82 818.73)" font-size="100px" font-style="italic" fill="#2b2b2b">β</text>
<text transform="rotate(-90) matrix(0.4000 0 0 0.4016 -279.73 819.85)" font-size="100px" font-style="normal" fill="#2b2b2b">[°]</text>
</svg>
<div class="cap" style="left:326px;top:687px;">(a)</div>
<div class="cap" style="left:1333px;top:687px;">(b)</div>
</body></html>
